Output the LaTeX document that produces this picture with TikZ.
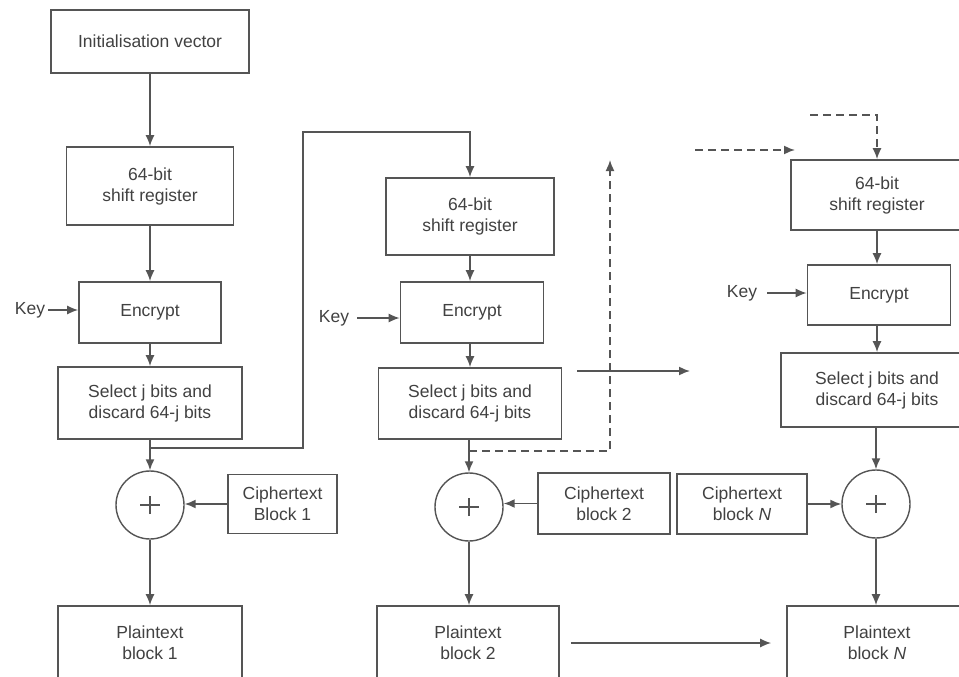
\documentclass[tikz,border=0pt]{standalone}
\usepackage{fontspec}
\setmainfont{Liberation Sans}
\usetikzlibrary{arrows.meta}
\definecolor{lc}{RGB}{85,85,85}
\definecolor{tc}{RGB}{65,65,65}
\begin{document}
\begin{tikzpicture}[x=1pt,y=-1pt,
  every node/.style={font=\fontsize{17.5}{21}\selectfont, text=tc, align=center, inner sep=0pt},
  box/.style 2 args={draw=lc, line width=1.6pt, rectangle, minimum width=#1, minimum height=#2},
  xorgate/.style={circle, draw=lc, line width=1.4pt, minimum size=68pt,
    path picture={
      \draw[lc, line width=1.1pt]
        ([xshift=-10pt]path picture bounding box.center) -- ([xshift=10pt]path picture bounding box.center)
        ([yshift=-9pt]path picture bounding box.center) -- ([yshift=9pt]path picture bounding box.center);
    }},
  arr/.style={draw=lc, line width=1.6pt, -{Latex[length=11pt,width=9pt]}},
  darr/.style={arr, dashed, dash pattern=on 8pt off 5pt}]
\useasboundingbox (0,0) rectangle (959,677);
\clip (0,0) rectangle (959,677);

% first stage
\node[box={198pt}{63pt}] (iv) at (150,41.5) {Initialisation vector};
\node[box={167pt}{78pt}] (sh1) at (150,186) {64-bit\\shift register};
\node[box={142pt}{61pt}] (en1) at (150,312.5) {Encrypt};
\node[box={184pt}{72pt}] (se1) at (150,403) {Select j bits and\\discard 64-j bits};
\node[xorgate] (x1) at (150,505) {};
\node[box={109pt}{59pt}] (c1) at (282.5,504) {Ciphertext\\Block 1};
\node[box={184pt}{74pt}] (p1) at (150,643) {Plaintext\\block 1};
\node (k1) at (30,310) {Key};

% second stage
\node[box={168pt}{77pt}] (sh2) at (470,216.5) {64-bit\\shift register};
\node[box={143pt}{61pt}] (en2) at (472,312.5) {Encrypt};
\node[box={183pt}{71pt}] (se2) at (470,403.5) {Select j bits and\\discard 64-j bits};
\node[xorgate] (x2) at (469,507) {};
\node[box={132pt}{61pt}] (c2) at (604,503.5) {Ciphertext\\block 2};
\node[box={182pt}{74pt}] (p2) at (468,643) {Plaintext\\block 2};
\node (k2) at (334,318) {Key};

% last stage
\node[box={172pt}{70pt}] (sh3) at (877,195) {64-bit\\shift register};
\node[box={143pt}{60pt}] (en3) at (879,295) {Encrypt};
\node[box={192pt}{74pt}] (se3) at (877,390) {Select j bits and\\discard 64-j bits};
\node[xorgate] (x3) at (876,504) {};
\node[box={130pt}{60pt}] (cn) at (742,504) {Ciphertext\\block \textit{N}};
\node[box={180pt}{74pt}] (pn) at (877,643) {Plaintext\\block \textit{N}};
\node (k3) at (742,293) {Key};

% stage one connectors
\draw[arr] (iv.south) -- (sh1.north);
\draw[arr] (sh1.south) -- (en1.north);
\draw[arr] (en1.south) -- (se1.north);
\draw[arr] (se1.south) -- (x1.north);
\draw[arr] (x1.south) -- (p1.north);
\draw[arr, shorten <=3pt] (k1.east) -- (k1.east -| en1.west);
\draw[arr] (c1.west) -- (c1.west -| x1.east);

% feedback into the second shift register
\coordinate (fb1) at (150,448);
\coordinate (fbtop) at (303,132);
\draw[arr] (fb1) -| (fbtop) -| (sh2.north);

% stage two connectors
\draw[arr] (sh2.south -| 470,0) -- (en2.north -| 470,0);
\draw[arr] (en2.south -| 470,0) -- (se2.north -| 470,0);
\draw[arr] (se2.south -| 469,0) -- (x2.north);
\draw[arr] (x2.south) -- (x2.south |- p2.north);
\draw[arr, shorten <=8pt] (k2.east) -- (k2.east -| en2.west);
\draw[arr] (c2.west) -- (c2.west -| x2.east);

% continuation to later stages
\coordinate (d1) at (469,451);
\coordinate (d2) at (610,160);
\draw[darr] (d1) -| (d2);
\coordinate (s1) at (577,371);
\coordinate (s2) at (690,371);
\draw[arr] (s1) -- (s2);
\coordinate (d3) at (695,150);
\coordinate (d4) at (795,150);
\draw[darr] (d3) -- (d4);
\coordinate (d5) at (810,115);
\draw[darr] (d5) -| (sh3.north);
\draw[arr, shorten <=11pt, shorten >=15pt] (p2.east) -- (pn.west);

% last stage connectors
\draw[arr] (sh3.south) -- (sh3.south |- en3.north);
\draw[arr] (sh3.south |- en3.south) -- (se3.north);
\draw[arr] (se3.south -| x3.north) -- (x3.north);
\draw[arr] (x3.south) -- (x3.south |- pn.north);
\draw[arr, shorten <=10pt] (k3.east) -- (k3.east -| en3.west);
\draw[arr] (cn.east) -- (cn.east -| x3.west);
\end{tikzpicture}
\end{document}
